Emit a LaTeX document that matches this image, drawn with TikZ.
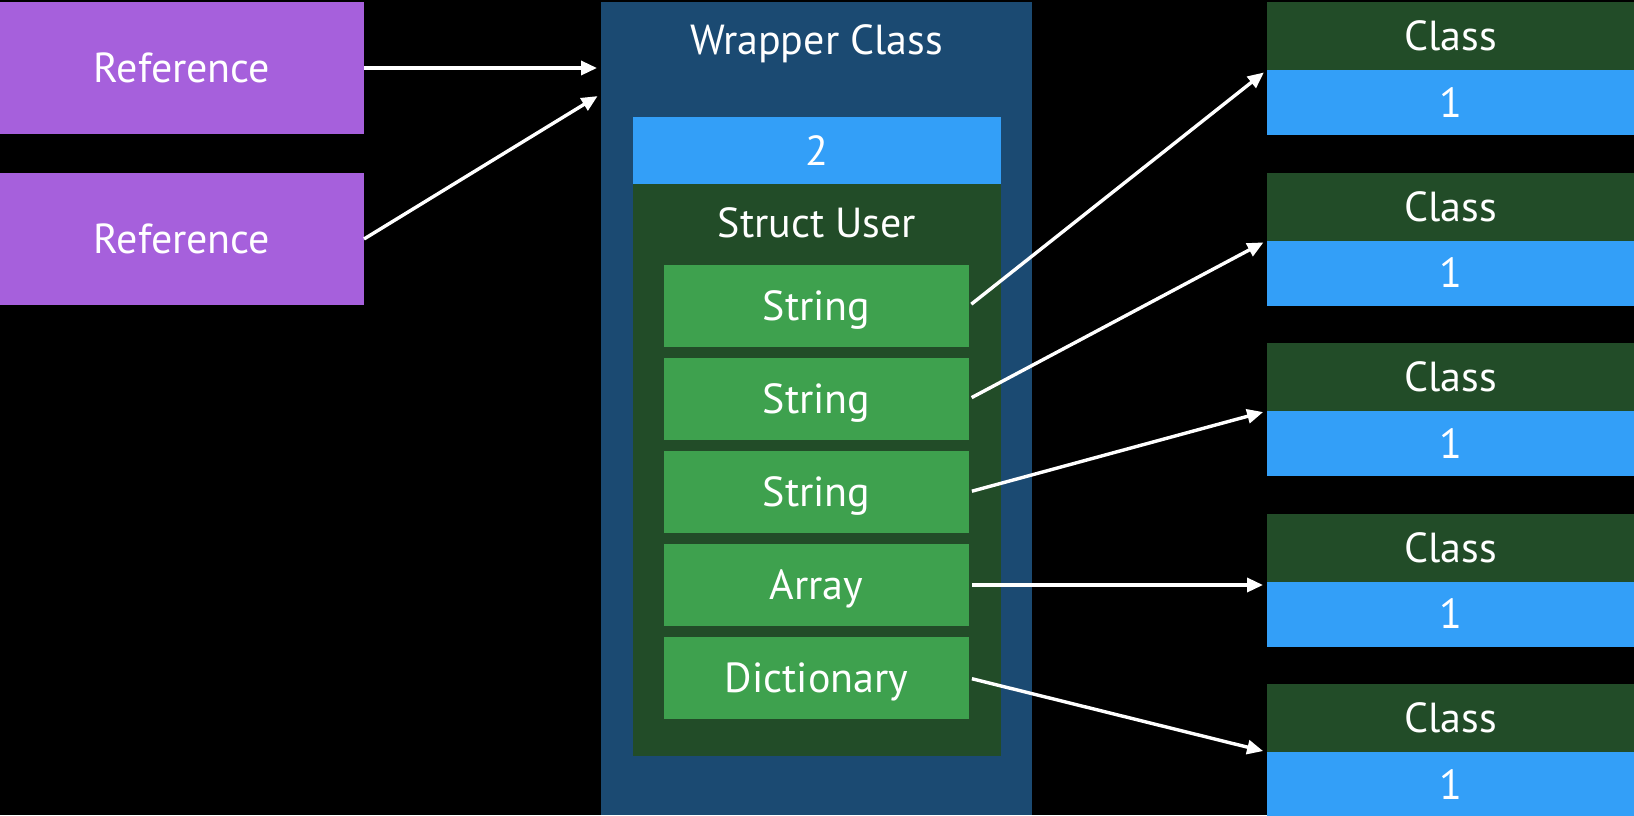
\documentclass[tikz,border=0pt]{standalone}
\usepackage{fontspec}
\setmainfont{PT Sans}
\usetikzlibrary{arrows.meta,positioning,calc}

\definecolor{refpurple}{RGB}{166,96,220}
\definecolor{wrapblue}{RGB}{27,74,114}
\definecolor{cntblue}{RGB}{51,159,248}
\definecolor{structgreen}{RGB}{34,76,40}
\definecolor{fieldgreen}{RGB}{62,161,78}

\begin{document}
\begin{tikzpicture}[
  x=0.5pt, y=-0.5pt,
  font=\fontsize{21}{25}\selectfont,
  >={Triangle[length=8pt,width=7pt]},
  box/.style={rectangle, inner sep=0pt, outer sep=0pt, text=white,
              align=center, text height=14.7pt, text depth=0pt},
  refbox/.style={box, fill=refpurple, minimum width=182pt, minimum height=66pt},
  cnt/.style={box, fill=cntblue, minimum width=184pt, minimum height=33.5pt},
  field/.style={box, fill=fieldgreen, minimum width=152.5pt, minimum height=41pt},
  hdr/.style={box, fill=structgreen, minimum width=183.5pt, minimum height=34pt},
  num/.style={box, fill=cntblue, minimum width=183.5pt, minimum height=32.5pt},
  ar/.style={->, draw=white, line width=1.7pt, shorten >=2pt},
]

% ---------- canvas ----------
\fill[black] (0,0) rectangle (1634,815);
\useasboundingbox (0,0) rectangle (1634,815);

% ---------- references (left) ----------
\node[refbox] (ref1) at (182,68) {Reference};
\node[refbox, below=19.5pt of ref1] (ref2) {Reference};

% ---------- wrapper class ----------
\node[box, fill=wrapblue, minimum width=215.5pt, minimum height=406.5pt] (wrap) at (816.5,408.5) {};
\node[box] (wtitle) at (816.5,40) {Wrapper Class};
\node[cnt] (cnt) at (817,150.5) {2};
\node[box, fill=structgreen, minimum width=184pt, minimum height=286pt, below=0pt of cnt] (struct) {};
\node[box] (stitle) at (817,223) {Struct User};

% ---------- struct fields ----------
\node[field] (f1) at (816.5,306) {String};
\node[field, below=5.5pt of f1] (f2) {String};
\node[field, below=5.5pt of f2] (f3) {String};
\node[field, below=5.5pt of f3] (f4) {Array};
\node[field, below=5.5pt of f4] (f5) {Dictionary};

% ---------- referenced classes (right) ----------
\node[hdr] (hdr1) at (1450.5,36) {Class};
\node[num, below=0pt of hdr1] (num1) {1};
\node[hdr, below=18.75pt of num1] (hdr2) {Class};
\node[num, below=0pt of hdr2] (num2) {1};
\node[hdr, below=18.75pt of num2] (hdr3) {Class};
\node[num, below=0pt of hdr3] (num3) {1};
\node[hdr, below=18.75pt of num3] (hdr4) {Class};
\node[num, below=0pt of hdr4] (num4) {1};
\node[hdr, below=18.75pt of num4] (hdr5) {Class};
\node[num, below=0pt of hdr5] (num5) {1};

% ===== references -> wrapper =====
\coordinate (in2) at ($(wrap.north west)+(0,92)$);
\draw[ar] (ref1.east) -- (ref1.east -| wrap.west);
\draw[ar] (ref2.east) -- (in2);

% ===== fields -> classes =====
\draw[ar, shorten <=1.5pt] (f1.east) -- (hdr1.south west);
\draw[ar, shorten <=1.5pt] (f2.east) -- (hdr2.south west);
\draw[ar, shorten <=1.5pt] (f3.east) -- (hdr3.south west);
\draw[ar, shorten <=1.5pt] (f4.east) -- (f4.east -| num4.west);
\draw[ar, shorten <=1.5pt] (f5.east) -- (hdr5.south west);

\end{tikzpicture}
\end{document}
